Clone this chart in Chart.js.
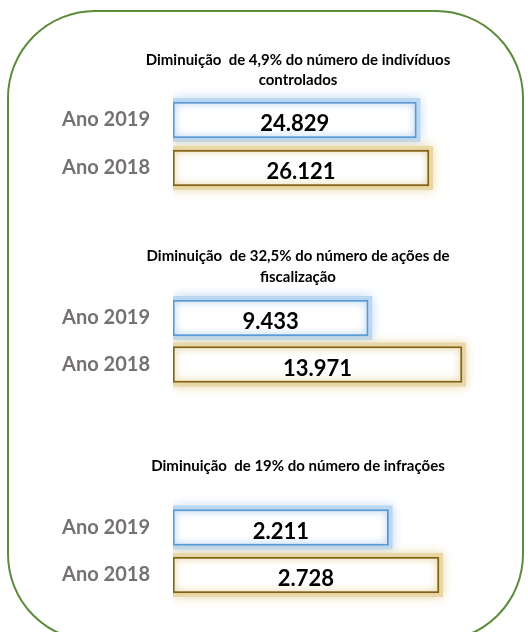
<!DOCTYPE html>
<html>
<head>
<meta charset="utf-8">
<script src="https://cdn.jsdelivr.net/npm/chart.js@4"></script>
<style>
html,body{margin:0;padding:0;background:#fff;overflow:hidden;width:528px;height:632px;}
#frame{position:absolute;left:7px;top:10px;width:517px;height:632px;box-sizing:border-box;border:2px solid #5B8C3B;border-radius:88px;}
.panel{position:absolute;left:56px;width:484px;height:188px;}
</style>
</head>
<body>
<div id="frame"></div>
<canvas class="panel" id="c1" width="484" height="188" style="top:40px"></canvas>
<canvas class="panel" id="c2" width="484" height="188" style="top:235px"></canvas>
<canvas class="panel" id="c3" width="484" height="188" style="top:446px"></canvas>
<script>
// ---- data ----
const categories = ['Ano 2019', 'Ano 2018'];
const titleIndividuos = ['Diminuição  de 4,9% do número de indivíduos', 'controlados'];
const titleAcoes = ['Diminuição  de 32,5% do número de ações de', 'fiscalização'];
const titleInfracoes = ['Diminuição  de 19% do número de infrações'];
const individuosControlados = [24829, 26121];
const acoesFiscalizacao = [9433, 13971];
const infracoes = [2211, 2728];

// ---- styles ----
const borderColors = ['#5B9BD5', '#846414'];
const glowColors = ['#BCD7F1', '#E8D8A8'];

function fmt(v){ return String(v).replace(/\B(?=(\d{3})+(?!\d))/g, '.'); }

function barBox(bar){
  const p = bar.getProps(['x','y','base','height'], true);
  return {left: Math.min(p.base, p.x), right: Math.max(p.base, p.x), top: p.y - p.height/2, bottom: p.y + p.height/2, cy: p.y};
}

const glowPlugin = {
  id: 'glow',
  beforeDatasetDraw(chart, args){
    const ctx = chart.ctx;
    args.meta.data.forEach((bar, i) => {
      const b = barBox(bar);
      const c = glowColors[i];
      ctx.save();
      ctx.beginPath();
      ctx.rect(b.left, b.top - 30, b.right - b.left + 40, b.bottom - b.top + 60);
      ctx.clip();
      ctx.shadowColor = c;
      ctx.shadowBlur = 10;
      ctx.fillStyle = c;
      ctx.fillRect(b.left, b.top - 4, b.right - b.left + 4, b.bottom - b.top + 8);
      ctx.restore();
    });
  },
  afterDatasetDraw(chart, args){
    const ctx = chart.ctx;
    args.meta.data.forEach((bar, i) => {
      const b = barBox(bar);
      const c = glowColors[i];
      const l = b.left + 2, t = b.top + 2, w = b.right - b.left - 4, h = b.bottom - b.top - 4;
      ctx.save();
      ctx.beginPath();
      ctx.rect(l, t, w, h);
      ctx.clip();
      ctx.shadowColor = c;
      ctx.shadowBlur = 9;
      ctx.strokeStyle = c;
      ctx.lineWidth = 8;
      ctx.strokeRect(l - 4, t - 4, w + 8, h + 8);
      ctx.restore();
    });
  },
  afterDatasetsDraw(chart){
    const ctx = chart.ctx;
    const ds = chart.data.datasets[0];
    chart.getDatasetMeta(0).data.forEach((bar, i) => {
      const b = barBox(bar);
      ctx.save();
      ctx.font = 'bold 22px Lato';
      ctx.fillStyle = '#000';
      ctx.textAlign = 'center';
      ctx.textBaseline = 'alphabetic';
      ctx.fillText(fmt(ds.data[i]), (b.left + b.right)/2, b.cy + 11);
      ctx.restore();
    });
  }
};

function makeChart(id, values, title, lineHeight, padTop, padBottom, xMax, layoutBottom){
  return new Chart(document.getElementById(id), {
    type: 'bar',
    data: {
      labels: categories,
      datasets: [{
        data: values,
        backgroundColor: '#FFFFFF',
        borderColor: borderColors,
        borderWidth: 2,
        borderSkipped: false,
        barThickness: 36
      }]
    },
    options: {
      indexAxis: 'y',
      responsive: false,
      animation: false,
      events: [],
      layout: {padding: {left: 0, right: 0, top: 0, bottom: layoutBottom}},
      scales: {
        x: {display: false, min: 0, max: xMax},
        y: {
          grid: {display: false, drawTicks: false},
          border: {display: false},
          ticks: {color: '#767171', font: {family: 'Lato', weight: 'bold', size: 20}, padding: 23},
          afterFit(scale){ scale.width = 117; }
        }
      },
      plugins: {
        legend: {display: false},
        tooltip: {enabled: false},
        title: {
          display: true,
          text: title,
          color: '#000',
          font: {family: 'Lato', weight: 'bold', size: 15, lineHeight: lineHeight},
          padding: {top: padTop, bottom: padBottom}
        }
      }
    },
    plugins: [glowPlugin]
  });
}

makeChart('c1', individuosControlados, titleIndividuos, '20px', 10, 6, 37449, 36);
makeChart('c2', acoesFiscalizacao, titleAcoes, '21px', 11, 6.75, 17742, 35.25);
makeChart('c3', infracoes, titleInfracoes, '20px', 10.5, 27.25, 3764, 35.25);
</script>
</body>
</html>
